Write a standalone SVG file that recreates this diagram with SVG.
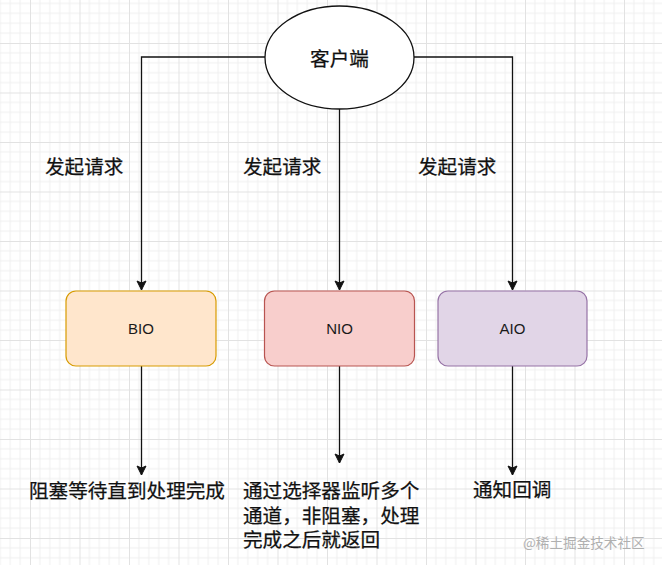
<svg xmlns="http://www.w3.org/2000/svg" width="662" height="565" viewBox="0 0 662 565">
<style>
.cjk{font-family:"Noto Sans CJK SC","Noto Sans",sans-serif;font-size:19.6px;fill:#111;stroke:#111;stroke-width:0.25;}
.lbl{font-family:"Liberation Sans",Arial,sans-serif;font-size:15px;fill:#1a1a1a;text-anchor:middle;dominant-baseline:central;}
.edge{fill:none;stroke:#111;stroke-width:1.3;}
.minor{stroke:#f0f0f0;stroke-width:1;}
.major{stroke:#e2e2e2;stroke-width:1;}
</style>
<defs>
<pattern id="grid" patternUnits="userSpaceOnUse" x="-19.5" y="-6.5" width="49.5" height="49.5">
<path class="minor" d="M9.9,0V49.5M19.8,0V49.5M29.7,0V49.5M39.6,0V49.5M0,9.9H49.5M0,19.8H49.5M0,29.7H49.5M0,39.6H49.5"/>
<path class="major" d="M0.5,0V49.5M0,0.5H49.5"/>
</pattern>
<marker id="arr" markerUnits="userSpaceOnUse" viewBox="-10 -6 12 12" markerWidth="12" markerHeight="12" refX="0" refY="0" orient="auto">
<path d="M-9,-4.5L0,0L-9,4.5L-7,0z" fill="#111" stroke="#111" stroke-width="1"/>
</marker>
</defs>
<rect width="662" height="565" fill="#fff"/>
<rect width="662" height="565" fill="url(#grid)"/>
<g id="connectors">
<path class="edge" d="M265,57H141.5V290" marker-end="url(#arr)"/>
<path class="edge" d="M339.5,109V290" marker-end="url(#arr)"/>
<path class="edge" d="M414,57H512.5V290" marker-end="url(#arr)"/>
<path class="edge" d="M141.5,366V475" marker-end="url(#arr)"/>
<path class="edge" d="M339.5,366V463" marker-end="url(#arr)"/>
<path class="edge" d="M512.5,366V475" marker-end="url(#arr)"/>
</g>
<g id="client">
<ellipse cx="339.5" cy="57.5" rx="74.5" ry="51.5" fill="#fff" stroke="#111" stroke-width="1.3"/>
<text class="cjk" x="339.5" y="57.5" text-anchor="middle" dominant-baseline="central">客户端</text>
</g>
<g id="req-labels">
<text class="cjk" x="45" y="165" dominant-baseline="central">发起请求</text>
<text class="cjk" x="243" y="165" dominant-baseline="central">发起请求</text>
<text class="cjk" x="418" y="165" dominant-baseline="central">发起请求</text>
</g>
<g id="bio">
<rect x="66" y="291" width="150" height="75" rx="10" fill="#ffe6cc" stroke="#d79b00" stroke-width="1.2"/>
<text class="lbl" x="141" y="328.5">BIO</text>
</g>
<g id="nio">
<rect x="264.5" y="291" width="150" height="75" rx="10" fill="#f8cecc" stroke="#b85450" stroke-width="1.2"/>
<text class="lbl" x="339.5" y="328.5">NIO</text>
</g>
<g id="aio">
<rect x="438" y="291" width="149" height="75" rx="10" fill="#e1d5e7" stroke="#9673a6" stroke-width="1.2"/>
<text class="lbl" x="512.5" y="328.5">AIO</text>
</g>
<g id="bio-result">
<text class="cjk" x="29" y="489" dominant-baseline="central">阻塞等待直到处理完成</text>
</g>
<g id="nio-result">
<text class="cjk" x="243" y="489" dominant-baseline="central"><tspan x="243" y="489">通过选择器监听多个</tspan><tspan x="243" y="513.5">通道，非阻塞，处理</tspan><tspan x="243" y="538">完成之后就返回</tspan></text>
</g>
<g id="aio-result">
<text class="cjk" x="473" y="488" dominant-baseline="central">通知回调</text>
</g>
<text x="523" y="542" dominant-baseline="central" style="font-family:'Noto Sans CJK SC',sans-serif;font-size:13.6px;fill:#b0b0b0;">@稀土掘金技术社区</text>
</svg>
